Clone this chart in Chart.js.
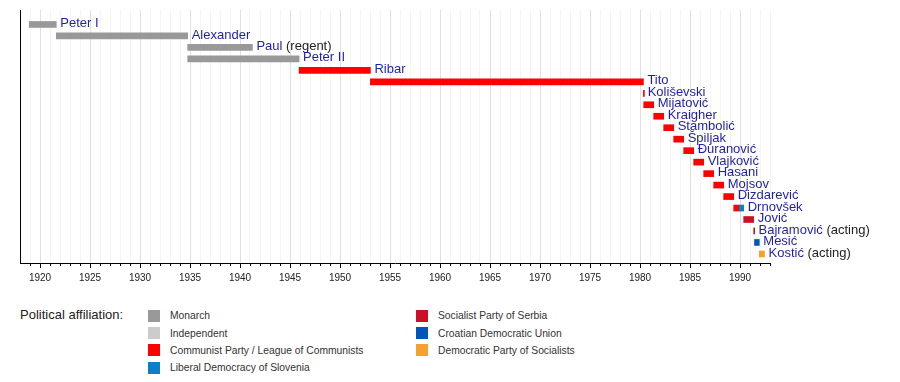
<!DOCTYPE html>
<html>
<head>
    <meta charset="utf-8">
    <title>Heads of state of Yugoslavia</title>
    <script src="https://cdn.jsdelivr.net/npm/chart.js"></script>
    <style>
        body { margin: 0; background: #fff; font-family: "Liberation Sans", Arial, sans-serif; }
        #wrap { position: relative; width: 900px; height: 382px; }
        #timeline { position: absolute; left: 0; top: 0; }
        .legend-title { position: absolute; left: 20px; top: 307px; font-size: 13px; color: #222; }
        #legend {
            position: absolute; left: 148px; top: 307px;
            display: grid; grid-auto-flow: column;
            grid-template-rows: repeat(4, 17.4px);
            grid-template-columns: 268px 268px;
        }
        .item { display: flex; align-items: center; font-size: 10.3px; color: #333; white-space: nowrap; }
        .swatch { width: 12px; height: 12px; margin-right: 10px; }
    </style>
</head>
<body>
    <div id="wrap">
        <canvas id="timeline" width="900" height="300"></canvas>
        <div class="legend-title">Political affiliation:</div>
        <div id="legend"></div>
    </div>

    <script>
        // rows of the timeline, top to bottom
        const leaders = ['Peter I', 'Alexander', 'Paul', 'Peter II', 'Ribar', 'Tito', 'Koliševski',
            'Mijatović', 'Kraigher', 'Stambolić', 'Špiljak', 'Đuranović', 'Vlajković', 'Hasani',
            'Mojsov', 'Dizdarević', 'Drnovšek', 'Jović', 'Bajramović', 'Mesić', 'Kostić'];
        const leaderNotes = ['', '', '(regent)', '', '', '', '', '', '', '', '', '', '', '', '', '', '', '',
            '(acting)', '', '(acting)'];

        const parties = ['Monarch', 'Independent', 'Communist Party / League of Communists',
            'Liberal Democracy of Slovenia', 'Socialist Party of Serbia', 'Croatian Democratic Union',
            'Democratic Party of Socialists'];
        const partyColors = ['#999999', '#cccccc', '#ff0000', '#0a80c8', '#cc1126', '#0055b8', '#f7a02e'];

        // term segments (decimal years); Drnovšek has two
        const segRow =   [0, 1, 2, 3, 4, 5, 6, 7, 8, 9, 10, 11, 12, 13, 14, 15, 16, 16, 17, 18, 19, 20];
        const segStart = [1918.92, 1921.63, 1934.77, 1934.77, 1945.91, 1953.04, 1980.34, 1980.37, 1981.37,
            1982.37, 1983.37, 1984.37, 1985.37, 1986.37, 1987.37, 1988.37, 1989.37, 1989.94, 1990.37,
            1991.37, 1991.45, 1991.93];
        const segEnd =   [1921.63, 1934.77, 1941.24, 1945.91, 1953.04, 1980.34, 1980.37, 1981.37, 1982.37,
            1983.37, 1984.37, 1985.37, 1986.37, 1987.37, 1988.37, 1989.37, 1989.94, 1990.37, 1991.37,
            1991.45, 1991.93, 1992.45];
        const segParty = [0, 0, 0, 0, 2, 2, 2, 2, 2, 2, 2, 2, 2, 2, 2, 2, 2, 3, 4, 4, 5, 6];

        const yearFirst = 1918;
        const yearLast = 1993;
        const labelEvery = 5;

        // name labels to the right of each row's last bar
        const nameLabels = {
            id: 'nameLabels',
            afterDatasetsDraw(chart) {
                const { ctx, scales: { x, y } } = chart;
                ctx.save();
                ctx.font = '13px "Liberation Sans", Arial, sans-serif';
                ctx.textBaseline = 'middle';
                leaders.forEach((name, i) => {
                    let end = -Infinity;
                    segRow.forEach((r, k) => { if (r === i) end = Math.max(end, segEnd[k]); });
                    let px = x.getPixelForValue(end) + 4;
                    const py = y.getPixelForValue(i) - 1;
                    ctx.fillStyle = '#1f1fa8';
                    ctx.fillText(name, px, py);
                    if (leaderNotes[i]) {
                        px += ctx.measureText(name + ' ').width;
                        ctx.fillStyle = '#222';
                        ctx.fillText(leaderNotes[i], px, py);
                    }
                });
                ctx.restore();
            }
        };

        // short year ticks, longer every 5 years
        const yearTicks = {
            id: 'yearTicks',
            afterDraw(chart) {
                const { ctx, chartArea } = chart;
                const x = chart.scales.x;
                ctx.save();
                ctx.strokeStyle = '#000';
                ctx.lineWidth = 1;
                for (let yr = yearFirst + 1; yr <= yearLast; yr++) {
                    const px = Math.round(x.getPixelForValue(yr)) + 0.5;
                    const len = yr % labelEvery === 0 ? 5 : 3;
                    ctx.beginPath();
                    ctx.moveTo(px, chartArea.bottom);
                    ctx.lineTo(px, chartArea.bottom + len);
                    ctx.stroke();
                }
                ctx.restore();
            }
        };

        new Chart(document.getElementById('timeline'), {
            type: 'bar',
            data: {
                datasets: [{
                    data: segRow.map((r, k) => ({ x: [segStart[k], segEnd[k]], y: r })),
                    backgroundColor: segParty.map(p => partyColors[p]),
                    borderWidth: 0,
                    borderSkipped: false,
                    barThickness: 6,
                    minBarLength: 1
                }]
            },
            options: {
                indexAxis: 'y',
                responsive: false,
                animation: false,
                devicePixelRatio: 1,
                layout: { padding: { left: 20, right: 130, top: 10, bottom: 0 } },
                plugins: { legend: { display: false }, tooltip: { enabled: false } },
                scales: {
                    x: {
                        type: 'linear',
                        min: yearFirst,
                        max: yearLast,
                        offset: false,
                        afterFit(scale) { scale.height = 37; },
                        border: { display: true, color: '#000', width: 1 },
                        grid: {
                            drawTicks: false,
                            offset: false,
                            color: c => (c.tick && c.tick.value % labelEvery === 0) ? '#e0e0e0' : '#f5f5f5'
                        },
                        ticks: {
                            stepSize: 1,
                            autoSkip: false,
                            maxRotation: 0,
                            padding: 9,
                            color: '#222',
                            font: { family: '"Liberation Sans", Arial, sans-serif', size: 10 },
                            callback: v => (v % labelEvery === 0 ? String(v) : '')
                        }
                    },
                    y: {
                        type: 'linear',
                        reverse: true,
                        offset: false,
                        min: -1.26,
                        max: 20.79,
                        afterFit(scale) { scale.width = 0; },
                        border: { display: true, color: '#000', width: 1 },
                        grid: { display: false, offset: false },
                        ticks: { display: false }
                    }
                }
            },
            plugins: [nameLabels, yearTicks]
        });

        const legend = document.getElementById('legend');
        parties.forEach((p, i) => {
            const item = document.createElement('div');
            item.className = 'item';
            const sw = document.createElement('span');
            sw.className = 'swatch';
            sw.style.background = partyColors[i];
            item.appendChild(sw);
            item.appendChild(document.createTextNode(p));
            legend.appendChild(item);
        });
    </script>
</body>
</html>
